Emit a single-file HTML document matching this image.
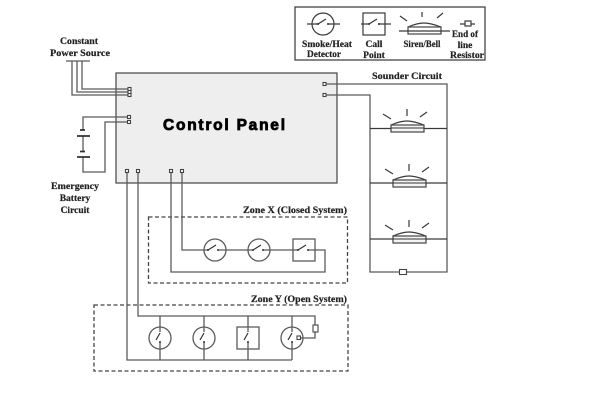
<!DOCTYPE html>
<html><head><meta charset="utf-8"><style>
html,body{margin:0;padding:0;background:#fff;width:600px;height:400px;overflow:hidden}
svg{display:block;filter:blur(.35px)}
text{font-family:"Liberation Serif",serif;font-weight:bold;font-size:9.5px;fill:#222;stroke:#222;stroke-width:.2}
.l{fill:none;stroke:#5a5a5a;stroke-width:1.3}
.k{fill:none;stroke:#3a3a3a;stroke-width:1.2}
.d{fill:none;stroke:#444;stroke-width:1.3;stroke-dasharray:4 2.5}
.t{fill:#fff;stroke:#444;stroke-width:1.1}
</style></head><body>
<svg width="600" height="400" viewBox="0 0 600 400" xmlns="http://www.w3.org/2000/svg">
<defs>
<g id="siren">
<path class="k" d="M-16 0C-9-3-5-4 0-4S9-3 17 0"/>
<rect x="-16" y="0" width="33" height="7" fill="#f4f4f4" stroke="#444" stroke-width="1.2"/>
<path d="M-16 3H17" stroke="#333" stroke-width="1.1"/>
<path class="k" d="M-24-11l8 5M0-16v7M13-8l7-5"/>
</g>
<g id="hsw"><circle cx="0" cy="0" r="1" fill="#333"/><circle cx="10" cy="0" r="1" fill="#333"/><path d="M0 0L8-5" stroke="#333" stroke-width="1.2"/></g>
</defs>

<!-- Legend -->
<rect x="295" y="7" width="190" height="53" fill="#fff" stroke="#444" stroke-width="1.3"/>
<circle class="k" cx="323" cy="24" r="11"/>
<path class="k" d="M307 24H319M328 24H340"/><use href="#hsw" x="318" y="24"/>
<rect class="k" x="363" y="13" width="22" height="22"/>
<path class="k" d="M361 24H369M378 24H391"/><use href="#hsw" x="369" y="24"/>
<g transform="translate(424 27)">
<path class="k" d="M-16 0C-9-3-5-4 0-4S9-3 17 0"/>
<rect x="-16" y="0" width="33" height="7" fill="none" stroke="#444" stroke-width="1.2"/>
<path class="k" d="M-24-11l7 5M-2-15v5M13-9l6-5M-25 4H26"/>
</g>
<rect class="k" x="465" y="21" width="6" height="5"/>
<path class="k" d="M460 24H465M471 24H475"/>
<text x="327" y="47" text-anchor="middle" textLength="50" lengthAdjust="spacingAndGlyphs">Smoke/Heat</text>
<text x="324" y="57" text-anchor="middle" textLength="34" lengthAdjust="spacingAndGlyphs">Detector</text>
<text x="374" y="47" text-anchor="middle">Call</text>
<text x="374" y="58" text-anchor="middle">Point</text>
<text x="422" y="47" text-anchor="middle" textLength="37" lengthAdjust="spacingAndGlyphs">Siren/Bell</text>
<text x="465" y="37" text-anchor="middle" textLength="26" lengthAdjust="spacingAndGlyphs">End of</text>
<text x="465" y="48" text-anchor="middle">line</text>
<text x="467" y="58" text-anchor="middle" textLength="34" lengthAdjust="spacingAndGlyphs">Resistor</text>

<!-- Control panel -->
<rect x="116" y="73" width="221" height="110" fill="#eeeeee" stroke="#444" stroke-width="1.2"/>
<text x="163" y="130" style="font-family:'Liberation Sans',sans-serif;font-size:15.5px;fill:#000;stroke:#000;stroke-width:.8" textLength="122" lengthAdjust="spacing">Control Panel</text>

<!-- Power -->
<path class="l" d="M66 61H90M82 61V89H128M77 61V92H128M72 61V95H128"/>
<text x="79" y="44" text-anchor="middle" textLength="38" lengthAdjust="spacingAndGlyphs">Constant</text>
<text x="80" y="56" text-anchor="middle" textLength="60" lengthAdjust="spacingAndGlyphs">Power Source</text>

<!-- Battery -->
<path class="l" d="M128 117H83V130M83 136V152M83 157V172H105V122H128"/>
<path d="M80 130H85M77 136H90M80 151.500H85M77 157H90" fill="none" stroke="#333" stroke-width="1.800"/>
<text x="75" y="189" text-anchor="middle" textLength="48" lengthAdjust="spacingAndGlyphs">Emergency</text>
<text x="75" y="201" text-anchor="middle">Battery</text>
<text x="75" y="213" text-anchor="middle">Circuit</text>

<!-- Sounder -->
<path class="l" d="M326 84H447V272H370V95H326"/>
<path class="k" d="M370 128.500H447M370 183H447M370 239H447"/>
<use href="#siren" x="407" y="125"/>
<use href="#siren" x="409" y="180"/>
<use href="#siren" x="409" y="236"/>
<rect class="t" x="399.500" y="269.500" width="7" height="5"/>
<text x="372" y="79" textLength="70" lengthAdjust="spacingAndGlyphs">Sounder Circuit</text>

<!-- Zone X -->
<rect class="d" x="148.500" y="217" width="199" height="66"/>
<text x="347" y="213" text-anchor="end" textLength="104" lengthAdjust="spacingAndGlyphs">Zone X (Closed System)</text>
<path class="l" d="M182 172V250H204M226 250H248M270 250H293M315 250H325V272H171V172"/>
<path class="l" d="M204 250H208M218 250H226M248 250H253M263 250H270M293 250H298M308 250H315"/>
<circle class="l" cx="215" cy="250" r="11"/><circle class="l" cx="259" cy="250" r="11"/>
<rect class="l" x="293" y="239" width="22" height="22"/>
<use href="#hsw" x="208" y="250"/><use href="#hsw" x="253" y="250"/><use href="#hsw" x="298" y="250"/>

<!-- Zone Y -->
<rect class="d" x="94" y="305" width="254" height="66"/>
<text x="347" y="302" text-anchor="end" textLength="96" lengthAdjust="spacingAndGlyphs">Zone Y (Open System)</text>
<path class="l" d="M127 172V360H292M138 172V316H315V325M315 331V338H300"/>
<rect class="t" x="313" y="325" width="5" height="7"/>
<circle class="l" cx="160" cy="338" r="11"/><circle class="l" cx="204" cy="338" r="11"/><circle class="l" cx="292" cy="338" r="11"/>
<rect class="l" x="237" y="327" width="22" height="22"/>
<path class="l" d="M160 316V332M204 316V332M248 316V332M292 316V332M160 342V360M204 342V360M248 342V360M292 342V360"/>
<path d="M160 333L156 340M204 333L200 340M248 333L244 340M292 333L288 340" stroke="#333" stroke-width="1.200"/>
<circle cx="160" cy="342" r="1" fill="#333"/><circle cx="204" cy="342" r="1" fill="#333"/><circle cx="248" cy="342" r="1" fill="#333"/><circle cx="292" cy="342" r="1" fill="#333"/>
<rect class="t" x="297" y="336" width="3.500" height="3.500"/>

<!-- Terminals -->
<g>
<rect class="t" x="128" y="87.500" width="3" height="3"/><rect class="t" x="128" y="90.500" width="3" height="3"/><rect class="t" x="128" y="93.500" width="3" height="3"/>
<rect class="t" x="127.500" y="115.500" width="3" height="3"/><rect class="t" x="127.500" y="120.500" width="3" height="3"/>
<rect class="t" x="323" y="82.500" width="3" height="3"/><rect class="t" x="323" y="93.500" width="3" height="3"/>
<rect class="t" x="125.500" y="169.500" width="3" height="3"/><rect class="t" x="136.500" y="169.500" width="3" height="3"/><rect class="t" x="169.500" y="169.500" width="3" height="3"/><rect class="t" x="180.500" y="169.500" width="3" height="3"/>
</g>
</svg>
</body></html>
